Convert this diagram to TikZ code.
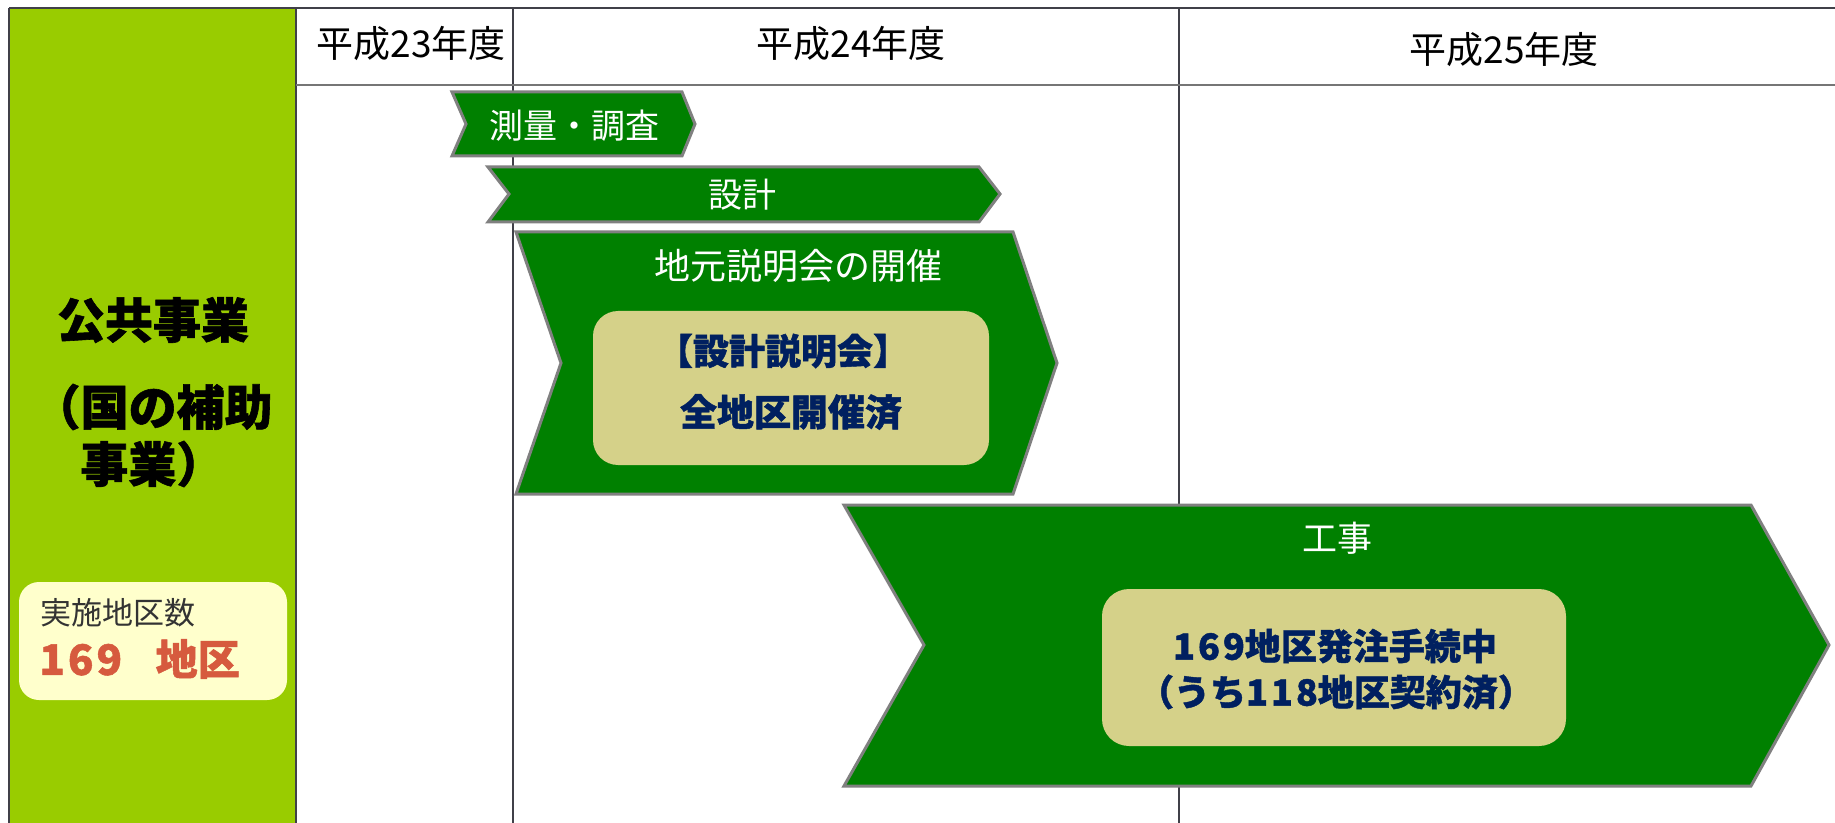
\documentclass[tikz,border=0pt]{standalone}
\usepackage{fontspec}
\setmainfont{Noto Sans CJK JP}[BoldFeatures={FakeBold=1.2}]
\definecolor{lgreen}{RGB}{153,204,0}
\definecolor{dgreen}{RGB}{0,128,0}
\definecolor{bordergray}{RGB}{128,128,128}
\definecolor{khaki}{RGB}{213,209,137}
\definecolor{navy}{RGB}{0,32,96}
\definecolor{lyellow}{RGB}{255,255,204}
\definecolor{redtxt}{RGB}{214,90,62}
\definecolor{darkline}{RGB}{64,64,72}
\definecolor{grayline}{RGB}{118,118,118}
\definecolor{darktxt}{RGB}{51,51,51}
\tikzset{
  tline/.style={draw=darkline, line width=1pt},
  hline/.style={draw=grayline, line width=1.25pt},
  chevron/.style={fill=dgreen, draw=bordergray, line width=1.5pt, line join=miter},
  innerbox/.style={fill=khaki, draw=none},
  wtxt/.style={text=white, inner sep=0pt},
  ntxt/.style={text=navy, inner sep=0pt, font=\fontsize{18}{21}\selectfont\bfseries},
  btxt/.style={text=black, inner sep=0pt, font=\fontsize{24}{28}\selectfont\bfseries},
  htxt/.style={text=black, inner sep=0pt, font=\fontsize{18.5}{21}\selectfont},
}
\begin{document}
\begin{tikzpicture}[x=0.5pt,y=-0.5pt]
\useasboundingbox (0,0) rectangle (1835,823);
\fill[white] (0,0) rectangle (1835,823);
% left green column
\fill[lgreen] (9,8) rectangle (296,823);
% table lines
\draw[tline] (9,8) -- (1835,8);
\draw[tline] (9,8) -- (9,823);
\draw[tline] (296,8) -- (296,823);
\draw[tline] (513,8) -- (513,823);
\draw[tline] (1179,8) -- (1179,823);
\draw[hline] (296,85) -- (1835,85);
% headers
\node[htxt] (h23) at (411,44) {平成23年度};
\node[htxt] (h24) at (851,44) {平成24年度};
\node[htxt] (h25) at (1504,50) {平成25年度};
% left column text
\node[btxt] (pub1) at (153,320) {公共事業};
\node[btxt, anchor=east] (pub2) at (273,407) {（国の補助};
\node[btxt, anchor=west] (pub3) at (80,464) {事業）};
% count box
\fill[lyellow, rounded corners=10pt] (19,582) rectangle (287,700);
\node[inner sep=0pt, anchor=west, text=darktxt, font=\fontsize{15.5}{18}\selectfont] (cntlbl) at (40,613) {実施地区数};
\node[inner sep=0pt, anchor=west, text=redtxt, font=\fontsize{21}{24}\selectfont\bfseries] (cntval) at (39,659) {1\kern1.5pt 6\kern1.5pt 9\hspace{0.8em}地区};
% chevrons
\draw[chevron] (452,92) -- (682,92) -- (695,124) -- (682,156) -- (452,156) -- (466,124) -- cycle;
\draw[chevron] (488,167) -- (979,167) -- (1000,194) -- (979,222) -- (488,222) -- (509,194) -- cycle;
\draw[chevron] (516,232) -- (1013,232) -- (1057,363) -- (1013,494) -- (516,494) -- (561,363) -- cycle;
\draw[chevron] (844,505) -- (1751,505) -- (1829,645) -- (1751,786) -- (844,786) -- (924,645) -- cycle;
% chevron labels
\node[wtxt, font=\fontsize{17}{20}\selectfont] (survey) at (574,126) {測量・調査};
\node[wtxt, font=\fontsize{17}{20}\selectfont] (design) at (742,195) {設計};
\node[wtxt, font=\fontsize{18}{21}\selectfont] (meeting) at (798,266) {地元説明会の開催};
\node[wtxt, font=\fontsize{17.5}{20}\selectfont] (works) at (1337,538) {工事};
% inner boxes
\fill[innerbox, rounded corners=12.5pt] (593,311) rectangle (989,465);
\node[ntxt, font=\fontsize{18}{21}\selectfont\bfseries] (dm1) at (783,351) {【設計説明会】};
\node[ntxt, font=\fontsize{18.5}{21}\selectfont\bfseries] (dm2) at (791,412) {全地区開催済};
\fill[innerbox, rounded corners=13.5pt] (1102,589) rectangle (1566,746);
\node[ntxt] (wk1) at (1335,646) {1\kern1.5pt 6\kern1.5pt 9地区発注手続中};
\node[ntxt] (wk2) at (1336,692) {（うち1\kern1.5pt 1\kern1.5pt 8地区契約済）};
\end{tikzpicture}
\end{document}
